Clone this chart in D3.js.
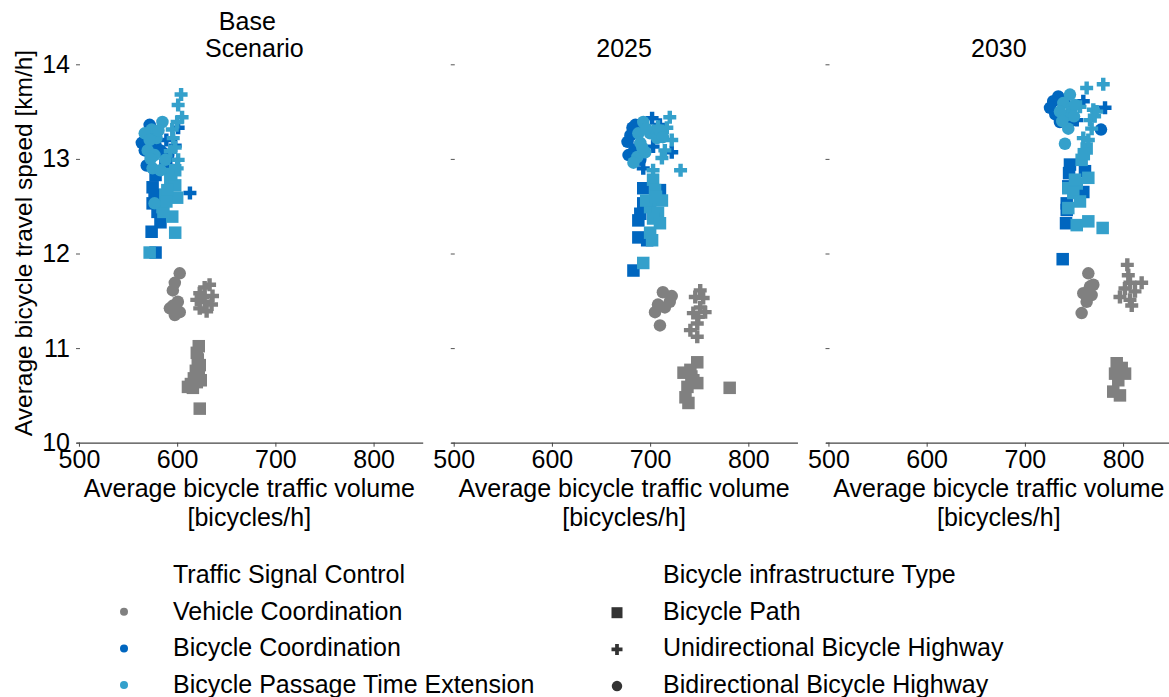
<!DOCTYPE html>
<html>
<head>
<meta charset="utf-8">
<script src="https://cdn.jsdelivr.net/npm/d3@7"></script>
<style>
  body { margin: 0; background: #fff; }
  text { font-family: "Liberation Sans", Arial, sans-serif; fill: #000; }
</style>
</head>
<body>
<svg id="chart" width="1169" height="697"></svg>
<script>
// ---- Axis ticks and labels ----
const xTicks = [500, 600, 700, 800];
const yTicks = [10, 11, 12, 13, 14];
const scenarioTitles = [["Base", "Scenario"], ["2025"], ["2030"]];
const controlLabels = ["Vehicle Coordination", "Bicycle Coordination", "Bicycle Passage Time Extension"];
const infraLabels = ["Bicycle Path", "Unidirectional Bicycle Highway", "Bidirectional Bicycle Highway"];
const controlColors = ["#808080", "#0066bf", "#34a0cb"];

// ---- Simulation results: [volume bicycles/h, speed km/h] ----
// Base scenario
const baseVehPath = [[622,11.02],[620,10.95],[621,10.88],[623,10.82],[619,10.76],[622,10.72],[617,10.68],[620,10.64],[614,10.62],[611,10.59],[616,10.58],[624,10.66],[623,10.36]];
const baseVehUni  = [[628,11.64],[633,11.67],[623,11.58],[636,11.55],[620,11.51],[628,11.49],[635,11.46],[623,11.42],[630,11.39],[626,11.54]];
const baseVehBi   = [[602.6,11.79],[597.6,11.69],[595.6,11.61],[600.7,11.49],[592.6,11.42],[597.6,11.35],[602.6,11.38],[596,11.45]];
const baseBikePath = [[574,12.23],[578,12.01],[583,12.33],[575,12.70],[575,12.53],[578,12.83],[580,12.44],[588,12.93],[577,12.62]];
const baseBikeUni  = [[589,13.20],[593,12.99],[598,13.14],[601,13.33],[595,12.88],[613,12.64],[588,13.05]];
const baseBikeBi   = [[564,13.17],[569,12.93],[567,13.09],[583,13.09],[591,13.04],[572,13.36],[578,13.15]];
const basePassPath = [[598,12.88],[593,12.78],[598,12.72],[600,12.59],[588,12.62],[585,12.49],[595,12.39],[586,12.44],[590,12.67],[598,12.22],[572,12.01],[594,12.84],[589,12.55]];
const basePassUni  = [[604,13.68],[601,13.57],[605,13.44],[600,13.39],[595,13.31],[596,13.22],[598,13.12],[593,13.08],[601,12.99],[600,12.90]];
const basePassBi   = [[585,13.39],[574,13.31],[567,13.27],[579,13.22],[570,13.09],[577,13.04],[575,12.90],[583,12.88],[572,13.20],[577,12.53],[588,12.99],[581,13.30],[573,13.00]];

// 2025
const y25VehPath = [[748,10.85],[741,10.77],[734,10.74],[744,10.66],[738,10.59],[748,10.63],[736,10.48],[739,10.42],[781,10.58],[742,10.70]];
const y25VehUni  = [[751,11.61],[746,11.54],[754,11.53],[751,11.43],[756,11.38],[744,11.37],[749,11.33],[748,11.26],[741,11.19],[748,11.12]];
const y25VehBi   = [[713,11.59],[722,11.55],[720,11.49],[708,11.46],[705,11.38],[710,11.24],[715,11.43]];
const y25BikePath = [[693,12.69],[693,12.53],[688,12.35],[688,12.17],[683,11.82],[710,12.67],[697,12.14],[690,12.42]];
const y25BikeUni  = [[702,13.43],[722,13.07],[693,12.90],[703,13.13],[710,13.36]];
const y25BikeBi   = [[677,13.18],[678,13.04],[682,13.33],[685,13.36],[680,13.25],[690,12.99],[684,13.10]];
const y25PassPath = [[703,12.78],[705,12.67],[712,12.56],[700,12.49],[708,12.43],[703,12.37],[710,12.32],[700,12.22],[702,12.14],[693,11.90],[696,12.56],[706,12.60]];
const y25PassUni  = [[720,13.44],[717,13.33],[731,12.88],[712,13.01],[703,12.88],[715,13.09],[708,13.34],[722,13.20]];
const y25PassBi   = [[693,13.39],[688,13.27],[690,13.17],[687,13.02],[683,12.96],[695,13.07],[700,13.27],[707,13.22],[710,13.30],[713,13.23],[696,13.32],[692,13.12]];

// 2030
const y30VehPath = [[793.5,10.84],[798.6,10.79],[802,10.73],[791.8,10.73],[795.1,10.66],[790,10.54],[796.8,10.50],[796,10.76]];
const y30VehUni  = [[804.3,11.88],[805.3,11.77],[807,11.69],[818.9,11.69],[801.9,11.63],[812.1,11.60],[796.8,11.54],[807,11.51],[808.8,11.45]];
const y30VehBi   = [[764.6,11.79],[766.3,11.65],[759.5,11.58],[768,11.56],[762.9,11.49],[757.8,11.37],[769.7,11.67]];
const y30BikePath = [[745.9,12.94],[761.2,12.87],[744.2,12.71],[759.5,12.65],[742.6,12.53],[741.9,12.32],[738.5,11.94],[742.6,12.46],[745,12.85]];
const y30BikeUni  = [[781.6,13.54],[759.5,13.61],[752.8,13.41]];
const y30BikeBi   = [[728.9,13.61],[725.6,13.54],[734,13.66],[735.7,13.39],[777.5,13.31],[749.3,13.41],[731,13.47],[740,13.62]];
const y30PassPath = [[762.9,13.11],[757.8,12.99],[764.6,12.80],[752.8,12.74],[744.2,12.69],[749.3,12.64],[756.1,12.55],[744.2,12.48],[752.8,12.30],[764.6,12.34],[779.2,12.27],[751,12.78],[760,13.05]];
const y30PassUni  = [[762.9,13.75],[779.8,13.79],[769.7,13.52],[766.3,13.41],[768,13.32],[759.5,13.22],[764.6,13.20],[773.1,13.50],[756.1,13.55],[771,13.45]];
const y30PassBi   = [[745.9,13.68],[739.1,13.59],[747.7,13.54],[742.6,13.46],[744.2,13.32],[740.8,13.16],[735.7,13.50],[751,13.57],[750,13.45],[738,13.40]];

// per scenario: [control][infrastructure]
const scenarioData = [
  [[baseVehPath, baseVehUni, baseVehBi], [baseBikePath, baseBikeUni, baseBikeBi], [basePassPath, basePassUni, basePassBi]],
  [[y25VehPath, y25VehUni, y25VehBi], [y25BikePath, y25BikeUni, y25BikeBi], [y25PassPath, y25PassUni, y25PassBi]],
  [[y30VehPath, y30VehUni, y30VehBi], [y30BikePath, y30BikeUni, y30BikeBi], [y30PassPath, y30PassUni, y30PassBi]]
];

// ---- Layout ----
const svg = d3.select("#chart");
const panelLeft0 = 76, panelWidth = 346.7, panelStep = 374.75;
const yTop = 64.3, yBottom = 442.7;
const xDomain = [497, 850];
const y = d3.scaleLinear().domain([10, 14]).range([yBottom, yTop]);
const FS = 25;

// marker shapes: square, filled plus, circle
function markerPath(type, s) {
  if (type === 0) { const h = s / 2; return `M${-h},${-h}H${h}V${h}H${-h}Z`; }
  if (type === 1) {
    const a = s / 2, t = s * 0.17;
    return `M${-t},${-a}H${t}V${-t}H${a}V${t}H${t}V${a}H${-t}V${t}H${-a}V${-t}H${-t}Z`;
  }
  const r = s / 2;
  return `M${r},0A${r},${r} 0 1,1 ${-r},0A${r},${r} 0 1,1 ${r},0Z`;
}
const markerSize = [12.5, 13, 12.5];

scenarioData.forEach((groups, i) => {
  const left = panelLeft0 + i * panelStep;
  const x = d3.scaleLinear().domain(xDomain).range([left, left + panelWidth]);
  const g = svg.append("g");

  // x axis
  const xa = g.append("g")
    .attr("transform", `translate(0,${yBottom})`)
    .call(d3.axisBottom(x).tickValues(xTicks).tickSize(4).tickSizeOuter(0).tickPadding(4));
  xa.select(".domain").attr("stroke", "#444").attr("stroke-width", 1.3);
  xa.selectAll(".tick line").attr("stroke", "#444");
  xa.selectAll(".tick text").attr("font-size", FS);

  // y ticks (labels only on first panel)
  const ya = g.append("g")
    .attr("transform", `translate(${left},0)`)
    .call(d3.axisLeft(y).tickValues(yTicks).tickSize(-4).tickPadding(6)
      .tickFormat(i === 0 ? d3.format("d") : () => ""));
  ya.select(".domain").remove();
  ya.selectAll(".tick line").attr("stroke", "#555");
  ya.selectAll(".tick text").attr("font-size", FS);

  // title
  const cx = left + panelWidth / 2;
  const title = scenarioTitles[i];
  title.forEach((line, k) => {
    const off = title.length > 1 ? (k === 0 ? -2 : 5) : 0;
    g.append("text")
      .attr("x", cx + off)
      .attr("y", 57 - (title.length - 1 - k) * 27)
      .attr("text-anchor", "middle")
      .attr("font-size", FS)
      .text(line);
  });

  // x label
  ["Average bicycle traffic volume", "[bicycles/h]"].forEach((line, k) => {
    g.append("text")
      .attr("x", cx)
      .attr("y", 497 + k * 28.5)
      .attr("text-anchor", "middle")
      .attr("font-size", FS)
      .text(line);
  });

  // points
  groups.forEach((byInfra, c) => {
    byInfra.forEach((pts, t) => {
      g.append("g").selectAll("path")
        .data(pts)
        .join("path")
        .attr("d", markerPath(t, markerSize[t]))
        .attr("transform", d => `translate(${x(d[0])},${y(d[1])})`)
        .attr("fill", controlColors[c]);
    });
  });
});

// y label
svg.append("text")
  .attr("transform", "translate(32,243) rotate(-90)")
  .attr("text-anchor", "middle")
  .attr("font-size", 24.5)
  .text("Average bicycle travel speed [km/h]");

// ---- Legends ----
const legendBase = 583, legendStep = 36.7;
const lg1 = svg.append("g");
lg1.append("text").attr("x", 173).attr("y", legendBase).attr("font-size", FS).text("Traffic Signal Control");
controlLabels.forEach((lab, k) => {
  const by = legendBase + (k + 1) * legendStep;
  lg1.append("circle").attr("cx", 124).attr("cy", by - 8).attr("r", 4).attr("fill", controlColors[k]);
  lg1.append("text").attr("x", 173).attr("y", by).attr("font-size", FS).text(lab);
});

const lg2 = svg.append("g");
lg2.append("text").attr("x", 663).attr("y", legendBase).attr("font-size", FS).text("Bicycle infrastructure Type");
infraLabels.forEach((lab, k) => {
  const by = legendBase + (k + 1) * legendStep;
  lg2.append("path")
    .attr("d", markerPath(k, k === 2 ? 10.5 : 11))
    .attr("transform", `translate(617,${by - 7})`)
    .attr("fill", "#333");
  lg2.append("text").attr("x", 663).attr("y", by).attr("font-size", FS).text(lab);
});
</script>
</body>
</html>
